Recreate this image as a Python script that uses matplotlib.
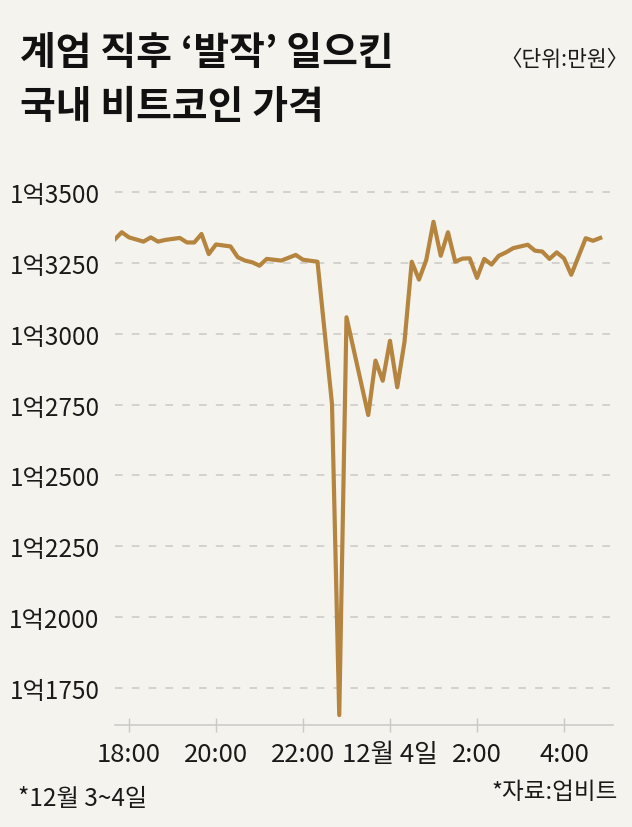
import numpy as np
import matplotlib.pyplot as plt

# 10-min prices on Upbit, Dec 3-4 (unit: 만원)
# minutes counted from 18:00 on Dec 3
minutes = [-20, -10, 0, 20, 30, 40, 50, 70, 80, 90,
           100, 110, 120, 140, 150, 160, 170, 180, 190, 210,
           230, 240, 260, 280, 290, 300, 330, 340, 350, 360,
           370, 380, 390, 400, 410, 420, 430, 440, 450, 460,
           470, 480, 490, 500, 510, 520, 530, 550, 560, 570,
           580, 590, 600, 610, 630, 640, 650]
price = [13332, 13358, 13340, 13325, 13340, 13325, 13331, 13338, 13322, 13322,
         13352, 13281, 13315, 13308, 13270, 13258, 13252, 13240, 13264, 13258,
         13278, 13261, 13254, 12752, 11654, 13058, 12713, 12905, 12834, 12975,
         12811, 12971, 13254, 13191, 13260, 13395, 13275, 13358, 13254, 13265,
         13266, 13197, 13264, 13244, 13275, 13287, 13302, 13314, 13293, 13290,
         13264, 13287, 13266, 13208, 13337, 13328, 13338]

x_tick_hours = [0, 2, 4, 6, 8, 10]
x_tick_labels = ['18:00', '20:00', '22:00', '12월 4일', '2:00', '4:00']
y_ticks = [11750, 12000, 12250, 12500, 12750, 13000, 13250, 13500]
y_tick_labels = ['1억' + str(v - 10000) for v in y_ticks]

bg = '#f4f3ee'
line_color = '#b5843f'
grey = '#c9c9c6'
kr = ['Noto Sans CJK KR', 'DejaVu Sans']

W, H = 632, 828
fig = plt.figure(figsize=(W / 100, H / 100), dpi=100)
fig.patch.set_facecolor(bg)

# axes placed in pixel terms of the reference
left, right, top, bottom = 115, 613, 180, 725.7
ax = fig.add_axes([left / W, 1 - bottom / H, (right - left) / W, (bottom - top) / H])
ax.set_facecolor(bg)

hours = np.array(minutes) / 60
ax.plot(hours, price, color=line_color, lw=3.0, zorder=3)

ax.set_xlim(-0.322, 11.127)
ax.set_ylim(11620, 13546)

ax.set_yticks(y_ticks)
ax.set_yticklabels(y_tick_labels, family=kr, fontsize=17.5, color='#1a1a1a')
ax.set_xticks(x_tick_hours)
ax.set_xticklabels(x_tick_labels, family=kr, fontsize=18.5, color='#1a1a1a')

ax.tick_params(axis='y', length=0, pad=11)
ax.tick_params(axis='x', direction='inout', length=10, width=1.0, color=grey, pad=7)

ax.yaxis.grid(True, color=grey, lw=1.1, linestyle=(0, (5, 6)))
ax.set_axisbelow(True)

for s in ['top', 'right', 'left']:
    ax.spines[s].set_visible(False)
ax.spines['bottom'].set_color(grey)
ax.spines['bottom'].set_linewidth(1.1)

# title block
fig.text(20 / W, 1 - 54 / H, '계엄 직후 ‘발작’ 일으킨', family=kr, fontweight='heavy',
         fontsize=28, color='#111111', ha='left', va='center')
fig.text(20 / W, 1 - 108 / H, '국내 비트코인 가격', family=kr, fontweight='heavy',
         fontsize=28, color='#111111', ha='left', va='center')
fig.text(628 / W, 1 - 60 / H, '〈단위:만원〉', family=kr, fontsize=15.5,
         color='#1a1a1a', ha='right', va='center')

# footnotes
fig.text(18 / W, 1 - 799 / H, '*12월 3~4일', family=kr, fontsize=17.5,
         color='#1a1a1a', ha='left', va='center')
fig.text(618 / W, 1 - 793 / H, '*자료:업비트', family=kr, fontsize=17,
         color='#1a1a1a', ha='right', va='center')

fig.savefig('out.png', dpi=100, facecolor=bg)
